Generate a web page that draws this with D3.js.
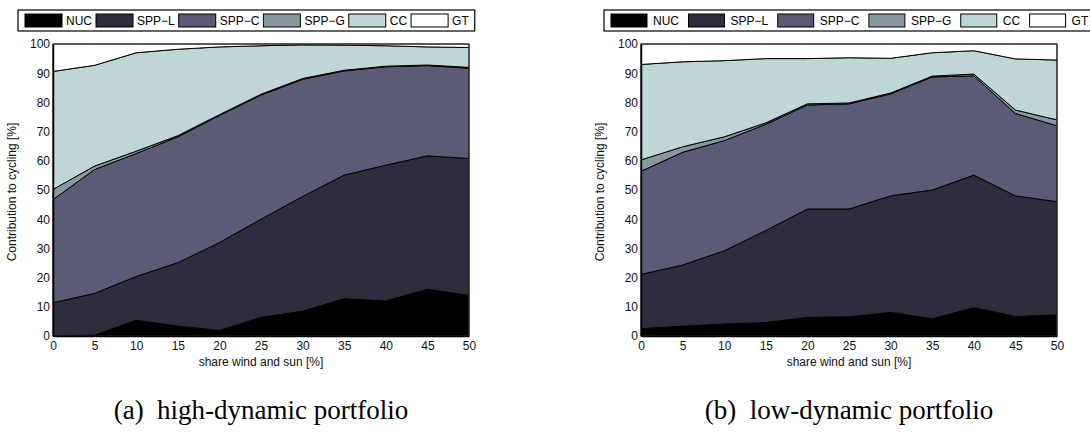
<!DOCTYPE html>
<html>
<head>
<meta charset="utf-8">
<script src="https://cdn.jsdelivr.net/npm/d3@7"></script>
<style>
  body { margin: 0; background: #fff; }
  text { font-family: "Liberation Sans", Arial, sans-serif; }
  text.caption { font-family: "Liberation Serif", "Times New Roman", serif; }
</style>
</head>
<body>
<div id="chart"></div>
<script>
// shares of wind and sun [%]
const shares = [0, 5, 10, 15, 20, 25, 30, 35, 40, 45, 50];
const keys = ["NUC", "SPP\u2212L", "SPP\u2212C", "SPP\u2212G", "CC", "GT"];
const colors = ["#000000", "#2e2d3d", "#5b5b78", "#87999f", "#bed6d5", "#ffffff"];
const yTicks = [0, 10, 20, 30, 40, 50, 60, 70, 80, 90, 100];

// (a) high-dynamic portfolio, contribution of each plant type [%]
const highNUC  = [0, 0.3, 5.4, 3.4, 1.9, 6.4, 8.5, 12.8, 12.0, 16.0, 13.9];
const highSPPL = [11.4, 14.3, 15.0, 21.7, 30.1, 33.6, 39.3, 42.3, 46.5, 45.7, 46.9];
const highSPPC = [35.3, 42.4, 42.1, 43.1, 43.5, 42.5, 40.1, 35.7, 33.7, 30.9, 30.9];
const highSPPG = [3.5, 1.2, 0.8, 0.4, 0.3, 0.3, 0.3, 0.2, 0.2, 0.2, 0.3];
const highCC   = [40.4, 34.5, 33.7, 29.6, 23.2, 16.6, 11.5, 8.6, 7.0, 6.2, 6.8];
const highGT   = [9.4, 7.3, 3.0, 1.8, 1.0, 0.6, 0.3, 0.4, 0.6, 1.0, 1.2];

// (b) low-dynamic portfolio
const lowNUC  = [2.5, 3.4, 4.1, 4.6, 6.4, 6.6, 8.1, 5.9, 9.7, 6.7, 7.2];
const lowSPPL = [18.6, 20.9, 25.1, 31.5, 37.1, 36.9, 39.9, 44.1, 45.4, 41.3, 38.8];
const lowSPPC = [35.3, 38.6, 37.7, 36.4, 35.6, 36.0, 34.9, 38.7, 34.0, 28.2, 26.0];
const lowSPPG = [3.9, 1.9, 1.3, 0.5, 0.4, 0.3, 0.3, 0.3, 0.6, 1.2, 2.0];
const lowCC   = [32.7, 29.1, 26.1, 22.0, 15.5, 15.5, 11.9, 8.0, 8.0, 17.5, 20.5];
const lowGT   = [7.0, 6.1, 5.7, 5.0, 5.0, 4.7, 4.9, 3.0, 2.3, 5.1, 5.5];

const width = 1090, height = 434;
const svg = d3.select("#chart").append("svg")
  .attr("width", width).attr("height", height);

function toRows(series) {
  return shares.map((s, i) => {
    const row = { share: s };
    keys.forEach((k, j) => row[k] = series[j][i]);
    return row;
  });
}

function drawPanel(opt) {
  const x = d3.scaleLinear().domain([0, 50]).range([opt.left, opt.right]);
  const y = d3.scaleLinear().domain([0, 100]).range([336, 44]);
  const g = svg.append("g");

  const stacked = d3.stack().keys(keys)(toRows(opt.series));
  const area = d3.area()
    .x(d => x(d.data.share))
    .y0(d => y(d[0]))
    .y1(d => y(d[1]));

  g.selectAll("path.layer").data(stacked).join("path")
    .attr("class", "layer")
    .attr("d", area)
    .attr("fill", (d, i) => colors[i])
    .attr("stroke", "#000")
    .attr("stroke-width", 1)
    .attr("stroke-linejoin", "round");

  // frame
  g.append("rect")
    .attr("x", opt.left).attr("y", y(100))
    .attr("width", opt.right - opt.left).attr("height", y(0) - y(100))
    .attr("fill", "none").attr("stroke", "#333").attr("stroke-width", 1);

  const xAxis = g.append("g").attr("transform", `translate(0,${y(0)})`)
    .call(d3.axisBottom(x).tickValues(shares).tickSize(0).tickPadding(5));
  const yAxis = g.append("g").attr("transform", `translate(${opt.left},0)`)
    .call(d3.axisLeft(y).tickValues(yTicks).tickSize(0).tickPadding(3));
  [xAxis, yAxis].forEach(a => {
    a.select(".domain").attr("stroke", "#000").attr("stroke-width", 1.5);
    a.selectAll("text").attr("font-size", 12).attr("fill", "#111")
      .attr("font-family", "Liberation Sans, Arial, sans-serif");
  });

  g.append("text")
    .attr("x", (opt.left + opt.right) / 2).attr("y", 366)
    .attr("text-anchor", "middle").attr("font-size", 12).attr("fill", "#111")
    .text("share wind and sun [%]");

  g.append("text")
    .attr("transform", `translate(${opt.left - 37},${(y(0) + y(100)) / 2 + 2}) rotate(-90)`)
    .attr("text-anchor", "middle").attr("font-size", 12).attr("fill", "#111")
    .text("Contribution to cycling [%]");

  // legend
  const lg = svg.append("g");
  const box = lg.append("rect")
    .attr("x", opt.legendX).attr("y", 10).attr("height", 21)
    .attr("fill", "#fff").attr("stroke", "#000").attr("stroke-width", 1.2);
  let cx = opt.legendX + 7;
  keys.forEach((k, i) => {
    lg.append("rect").attr("x", cx).attr("y", 14).attr("width", opt.sw).attr("height", 13)
      .attr("fill", colors[i]).attr("stroke", "#000").attr("stroke-width", 1);
    cx += opt.sw + opt.tg;
    const t = lg.append("text").attr("x", cx).attr("y", 25)
      .attr("font-size", 12).attr("fill", "#000").text(k);
    cx += t.node().getComputedTextLength() + opt.ig;
  });
  box.attr("width", cx - opt.legendX - opt.ig + 6);

  svg.append("text")
    .attr("class", "caption")
    .attr("x", (opt.left + opt.right) / 2).attr("y", 419)
    .attr("text-anchor", "middle")
    .attr("font-size", 27).attr("fill", "#000")
    .attr("xml:space", "preserve")
    .text(opt.caption);
}

drawPanel({
  left: 53, right: 469, legendX: 18, sw: 37, tg: 4, ig: 4,
  series: [highNUC, highSPPL, highSPPC, highSPPG, highCC, highGT],
  caption: "(a)  high-dynamic portfolio"
});
drawPanel({
  left: 641, right: 1057, legendX: 604, sw: 36, tg: 6, ig: 9.5,
  series: [lowNUC, lowSPPL, lowSPPC, lowSPPG, lowCC, lowGT],
  caption: "(b)  low-dynamic portfolio"
});
</script>
</body>
</html>
